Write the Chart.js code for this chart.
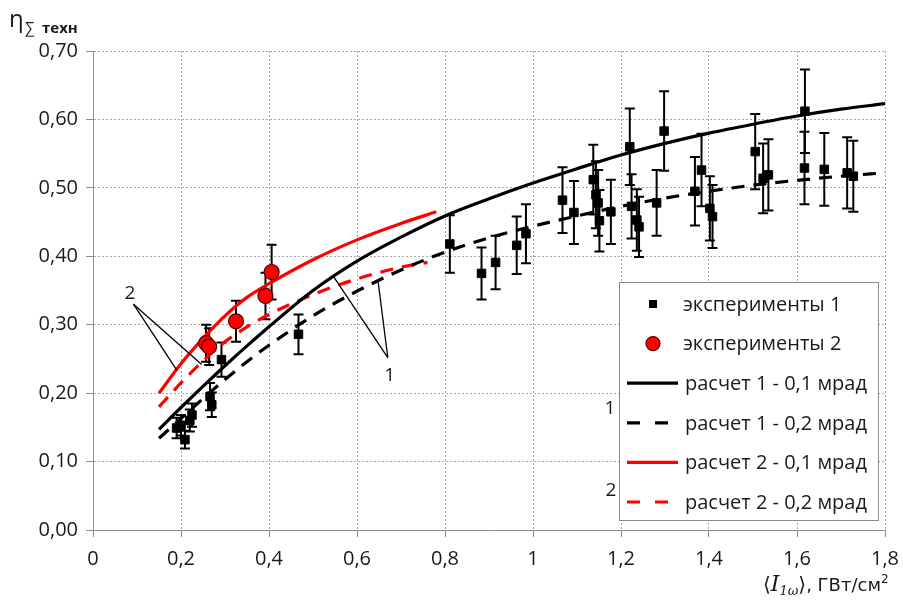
<!DOCTYPE html>
<html lang="ru">
<head>
<meta charset="utf-8">
<title>КПД техн</title>
<script src="https://cdn.jsdelivr.net/npm/chart.js@4.4.1/dist/chart.umd.min.js"></script>
<style>
  html, body { margin: 0; padding: 0; background: #fff; }
  #wrap { width: 903px; height: 604px; }
</style>
</head>
<body>
<div id="wrap"><canvas id="effChart" width="903" height="604"></canvas></div>
<script>
// ===============================
// Data
// ===============================
const EXP1_X = [0.190, 0.200, 0.209, 0.220, 0.225, 0.266, 0.270, 0.292, 0.467,
  0.811, 0.883, 0.915, 0.963, 0.984, 1.067, 1.093, 1.137, 1.143, 1.148, 1.151,
  1.177, 1.220, 1.224, 1.236, 1.241, 1.281, 1.298, 1.368, 1.383, 1.402, 1.408,
  1.505, 1.523, 1.535, 1.617, 1.618, 1.662, 1.714, 1.728];
const EXP1_Y = [0.149, 0.153, 0.132, 0.160, 0.168, 0.195, 0.183, 0.249, 0.286,
  0.418, 0.375, 0.391, 0.416, 0.433, 0.482, 0.464, 0.512, 0.490, 0.478, 0.452,
  0.465, 0.560, 0.473, 0.453, 0.443, 0.478, 0.583, 0.495, 0.526, 0.470, 0.458,
  0.553, 0.514, 0.519, 0.529, 0.612, 0.527, 0.522, 0.517];
const EXP1_ERR = [0.015, 0.015, 0.013, 0.016, 0.017, 0.020, 0.018, 0.025, 0.029,
  0.042, 0.038, 0.039, 0.042, 0.043, 0.048, 0.046, 0.051, 0.049, 0.048, 0.045,
  0.047, 0.056, 0.047, 0.045, 0.044, 0.048, 0.058, 0.050, 0.053, 0.047, 0.046,
  0.055, 0.051, 0.052, 0.053, 0.061, 0.053, 0.052, 0.052];

const EXP2_X = [0.257, 0.264, 0.325, 0.392, 0.406];
const EXP2_Y = [0.273, 0.268, 0.305, 0.342, 0.377];
const EXP2_ERR = [0.027, 0.027, 0.030, 0.034, 0.040];

const CALC1_X = [0.15, 0.2, 0.25, 0.3, 0.35, 0.4, 0.5, 0.6, 0.7, 0.8,
  0.9, 1.0, 1.1, 1.2, 1.3, 1.4, 1.5, 1.6, 1.7, 1.8];
const CALC1_01 = [0.147, 0.179, 0.210, 0.240, 0.269, 0.297, 0.350, 0.393, 0.428, 0.459,
  0.484, 0.507, 0.528, 0.548, 0.565, 0.580, 0.593, 0.605, 0.615, 0.623];
const CALC1_02 = [0.134, 0.163, 0.192, 0.220, 0.246, 0.270, 0.313, 0.349, 0.380, 0.406,
  0.427, 0.444, 0.459, 0.473, 0.485, 0.495, 0.504, 0.511, 0.517, 0.522];

const CALC2_X_01 = [0.15, 0.2, 0.25, 0.3, 0.35, 0.4, 0.5, 0.6, 0.7, 0.78];
const CALC2_01 = [0.200, 0.243, 0.280, 0.313, 0.340, 0.360, 0.395, 0.424, 0.448, 0.465];
const CALC2_X_02 = [0.15, 0.2, 0.25, 0.3, 0.35, 0.4, 0.5, 0.6, 0.7, 0.76];
const CALC2_02 = [0.180, 0.215, 0.247, 0.275, 0.297, 0.315, 0.344, 0.367, 0.384, 0.391];

const X_TICKS = [0, 0.2, 0.4, 0.6, 0.8, 1, 1.2, 1.4, 1.6, 1.8];
const Y_TICKS = [0, 0.1, 0.2, 0.3, 0.4, 0.5, 0.6, 0.7];

const LEGEND_LABELS = [
  "эксперименты 1",
  "эксперименты 2",
  "расчет 1 - 0,1 мрад",
  "расчет 1 - 0,2 мрад",
  "расчет 2 - 0,1 мрад",
  "расчет 2 - 0,2 мрад"
];

// annotation callouts, in data units: label, label pos, leader start, leader ends
const CALLOUTS = [
  { text: "2", at: [0.084, 0.346], from: [0.092, 0.330], to: [[0.190, 0.234], [0.247, 0.242]] },
  { text: "1", at: [0.674, 0.226], from: [0.670, 0.252], to: [[0.546, 0.371], [0.648, 0.363]] },
  { text: "1", at: [1.175, 0.178], from: null, to: [] },
  { text: "2", at: [1.177, 0.058], from: null, to: [] }
];

const COLORS = {
  black: "#000000",
  red: "#ff0000",
  redEdge: "#5a0000",
  grid: "#a6a6a6",
  axis: "#8c8c8c",
  text: "#1a1a1a"
};

const FONT = "'Open Sans', 'DejaVu Sans', sans-serif";

function pts(xs, ys) {
  return xs.map((x, i) => ({ x, y: ys[i] }));
}

function fmtComma(v, digits) {
  return v.toFixed(digits).replace(".", ",");
}

/* -----------------------------------------------------
   error bars, drawn under the markers
----------------------------------------------------- */
const errorBarPlugin = {
  id: "errorBars",
  beforeDatasetsDraw(chart) {
    const { ctx, scales } = chart;
    const sets = [[EXP1_X, EXP1_Y, EXP1_ERR], [EXP2_X, EXP2_Y, EXP2_ERR]];
    ctx.save();
    ctx.strokeStyle = COLORS.black;
    ctx.lineWidth = 2;
    sets.forEach(([xs, ys, es]) => {
      xs.forEach((x, i) => {
        const px = scales.x.getPixelForValue(x);
        const top = scales.y.getPixelForValue(ys[i] + es[i]);
        const bot = scales.y.getPixelForValue(ys[i] - es[i]);
        ctx.beginPath();
        ctx.moveTo(px, top); ctx.lineTo(px, bot);
        ctx.moveTo(px - 5, top); ctx.lineTo(px + 5, top);
        ctx.moveTo(px - 5, bot); ctx.lineTo(px + 5, bot);
        ctx.stroke();
      });
    });
    ctx.restore();
  }
};

/* -----------------------------------------------------
   legend box, callouts and axis titles
----------------------------------------------------- */
const overlayPlugin = {
  id: "overlay",
  afterDraw(chart) {
    const { ctx, scales, chartArea } = chart;
    const sx = (v) => scales.x.getPixelForValue(v);
    const sy = (v) => scales.y.getPixelForValue(v);

    ctx.save();

    // callouts
    ctx.strokeStyle = COLORS.black;
    ctx.lineWidth = 1.3;
    ctx.fillStyle = COLORS.text;
    ctx.font = `19px ${FONT}`;
    ctx.textAlign = "center";
    ctx.textBaseline = "middle";
    CALLOUTS.forEach((c) => {
      if (c.from) {
        c.to.forEach((p) => {
          ctx.beginPath();
          ctx.moveTo(sx(c.from[0]), sy(c.from[1]));
          ctx.lineTo(sx(p[0]), sy(p[1]));
          ctx.stroke();
        });
      }
      ctx.fillText(c.text, sx(c.at[0]), sy(c.at[1]));
    });

    // legend
    const W = 259, H = 238;
    const L = chartArea.right - 266, T = chartArea.top + 231;
    ctx.fillStyle = "#ffffff";
    ctx.fillRect(L, T, W, H);
    ctx.strokeStyle = COLORS.axis;
    ctx.lineWidth = 1;
    ctx.strokeRect(L + 0.5, T + 0.5, W, H);

    ctx.textAlign = "left";
    ctx.font = `20px ${FONT}`;
    LEGEND_LABELS.forEach((label, i) => {
      const y = T + 22 + i * 39.6;
      const x0 = L + 8, x1 = L + 59, xm = L + 34;
      if (i === 0) {
        ctx.fillStyle = COLORS.black;
        ctx.fillRect(xm - 4, y - 4, 8, 8);
      } else if (i === 1) {
        ctx.beginPath();
        ctx.arc(xm, y, 7, 0, Math.PI * 2);
        ctx.fillStyle = COLORS.red;
        ctx.fill();
        ctx.strokeStyle = COLORS.redEdge;
        ctx.lineWidth = 1.2;
        ctx.stroke();
      } else {
        ctx.strokeStyle = i < 4 ? COLORS.black : COLORS.red;
        ctx.lineWidth = 3.2;
        ctx.setLineDash(i % 2 === 1 ? [13, 15] : []);
        ctx.beginPath();
        ctx.moveTo(x0, y); ctx.lineTo(x1, y);
        ctx.stroke();
        ctx.setLineDash([]);
      }
      ctx.fillStyle = COLORS.text;
      ctx.fillText(label, i < 2 ? L + 64 : L + 66, y + 1);
    });

    // y title  η∑ техн
    ctx.textBaseline = "alphabetic";
    ctx.fillStyle = COLORS.text;
    ctx.font = `24px ${FONT}`;
    ctx.fillText("η", 9, 27);
    ctx.font = `15px ${FONT}`;
    ctx.fillText("∑", 25, 33);
    ctx.font = `bold 15px ${FONT}`;
    ctx.fillText("техн", 42, 33);

    // x title  ⟨I1ω⟩, ГВт/см²
    let x = 763;
    const base = 591;
    const put = (t, font, dy) => {
      ctx.font = font;
      ctx.fillText(t, x, base + (dy || 0));
      x += ctx.measureText(t).width;
    };
    put("⟨", `20px 'DejaVu Serif', serif`);
    put("I", `italic 22px 'DejaVu Serif', serif`);
    put("1ω", `italic 13px 'DejaVu Serif', serif`, 4);
    put("⟩", `20px 'DejaVu Serif', serif`);
    put(", ГВт/см", `18px 'DejaVu Sans', sans-serif`);
    put("2", `12px 'DejaVu Sans', sans-serif`, -8);

    ctx.restore();
  }
};

/* -----------------------------------------------------
   chart
----------------------------------------------------- */
function lineSet(label, xs, ys, color, dashed) {
  return {
    type: "line",
    label,
    data: pts(xs, ys),
    borderColor: color,
    backgroundColor: color,
    borderWidth: 3.2,
    borderDash: dashed ? [13, 9] : [],
    pointRadius: 0,
    cubicInterpolationMode: "monotone",
    showLine: true,
    fill: false,
    order: 2
  };
}

function buildChart() {
  new Chart(document.getElementById("effChart"), {
    type: "scatter",
    data: {
      datasets: [
        {
          label: LEGEND_LABELS[0],
          data: pts(EXP1_X, EXP1_Y),
          pointStyle: "rect",
          pointRadius: 6,
          pointBackgroundColor: COLORS.black,
          pointBorderColor: COLORS.black,
          pointBorderWidth: 1,
          order: 1
        },
        {
          label: LEGEND_LABELS[1],
          data: pts(EXP2_X, EXP2_Y),
          pointStyle: "circle",
          pointRadius: 7.5,
          pointBackgroundColor: COLORS.red,
          pointBorderColor: COLORS.redEdge,
          pointBorderWidth: 1.2,
          order: 0
        },
        lineSet(LEGEND_LABELS[2], CALC1_X, CALC1_01, COLORS.black, false),
        lineSet(LEGEND_LABELS[3], CALC1_X, CALC1_02, COLORS.black, true),
        lineSet(LEGEND_LABELS[4], CALC2_X_01, CALC2_01, COLORS.red, false),
        lineSet(LEGEND_LABELS[5], CALC2_X_02, CALC2_02, COLORS.red, true)
      ]
    },
    options: {
      responsive: false,
      animation: false,
      devicePixelRatio: 1,
      layout: { padding: { left: 0, top: 51, right: 18, bottom: 0 } },
      plugins: {
        legend: { display: false },
        tooltip: { enabled: false }
      },
      scales: {
        x: {
          type: "linear",
          min: X_TICKS[0],
          max: X_TICKS[X_TICKS.length - 1],
          afterBuildTicks: (s) => { s.ticks = X_TICKS.map((v) => ({ value: v })); },
          afterFit: (s) => { s.height = 74; s.paddingRight = 0; s.paddingLeft = 0; },
          ticks: {
            color: COLORS.text,
            font: { family: FONT, size: 20 },
            padding: 10,
            maxRotation: 0,
            callback: (v) => (v === 0 || v === 1 ? String(v) : fmtComma(v, 1))
          },
          grid: {
            color: COLORS.grid,
            tickLength: 7,
            tickColor: COLORS.axis,
            tickWidth: 1
          },
          border: { display: true, color: COLORS.axis, width: 1, dash: [2, 2] }
        },
        y: {
          type: "linear",
          min: Y_TICKS[0],
          max: Y_TICKS[Y_TICKS.length - 1],
          afterBuildTicks: (s) => { s.ticks = Y_TICKS.map((v) => ({ value: v })); },
          afterFit: (s) => { s.width = 93; },
          ticks: {
            color: COLORS.text,
            font: { family: FONT, size: 20 },
            padding: 8,
            callback: (v) => fmtComma(v, 2)
          },
          grid: {
            color: COLORS.grid,
            tickLength: 7,
            tickColor: COLORS.axis,
            tickWidth: 1
          },
          border: { display: true, color: COLORS.axis, width: 1, dash: [2, 2] }
        }
      }
    },
    plugins: [errorBarPlugin, overlayPlugin]
  });
}

document.addEventListener("DOMContentLoaded", buildChart);
</script>
</body>
</html>
